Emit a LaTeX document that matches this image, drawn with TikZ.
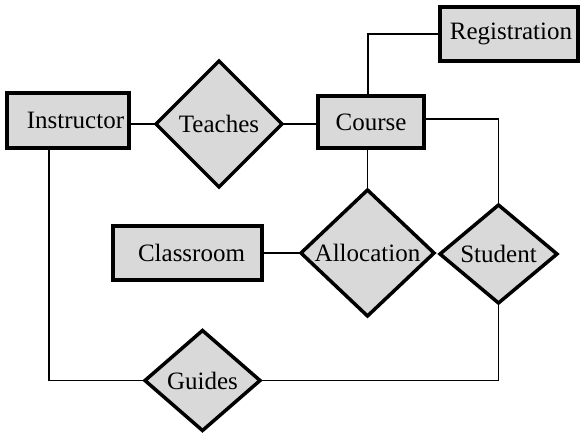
\documentclass[tikz,border=0pt]{standalone}
\usepackage{fontspec}
\setmainfont{Liberation Serif}
\usetikzlibrary{shapes.geometric}
\definecolor{boxfill}{RGB}{217,217,217}
\tikzset{
  entity/.style={draw, line width=4pt, fill=boxfill, rectangle, inner sep=0pt, outer sep=0pt,
    font=\fontsize{25}{30}\selectfont},
  relation/.style={draw, line width=3.5pt, fill=boxfill, diamond, aspect=1, inner sep=0pt, outer sep=0pt,
    font=\fontsize{25}{30}\selectfont},
  link/.style={line width=1.7pt}
}
\begin{document}
\begin{tikzpicture}[x=1pt,y=-1pt]
\useasboundingbox (0,0) rectangle (581,432);

% entities
\node[entity, minimum width=122pt, minimum height=55pt] (instructor) at (68,120.5) {\hspace*{15pt}Instructor};
\node[entity, minimum width=106pt, minimum height=52pt] (course) at (371,122) {Course};
\node[entity, minimum width=138pt, minimum height=54pt] (registration) at (509,34) {\hspace*{4pt}Registration};
\node[entity, minimum width=149pt, minimum height=54pt] (classroom) at (187.5,253) {\hspace*{8pt}Classroom};

% relationships
\node[relation, minimum width=126pt, minimum height=126pt] (teaches) at (219,124) {Teaches};
\node[relation, minimum width=133pt, minimum height=126pt] (allocation) at (367.5,253) {Allocation};
\node[relation, minimum width=117pt, minimum height=98pt] (student) at (498.5,254) {Student};
\node[relation, minimum width=115pt, minimum height=100pt] (guides) at (202.5,380.5) {Guides};

% the Instructor-Guides link leaves the box left of its centre
\coordinate (drop) at (49,148);

% links between entities and relationships
\draw[link] (teaches.west) -- (teaches.west -| instructor.east);
\draw[link] (teaches.east) -- (teaches.east -| course.west);
\draw[link] ([xshift=-3pt]course.north) |- (registration.west);
\draw[link] (allocation.north) -- (allocation.north |- course.south);
\draw[link] ([yshift=3pt]course.east) -| (student.north);
\draw[link] (classroom.east) -- (allocation.west);
\draw[link] (drop) |- (guides.west);
\draw[link] (guides.east) -| (student.south);
\end{tikzpicture}
\end{document}
